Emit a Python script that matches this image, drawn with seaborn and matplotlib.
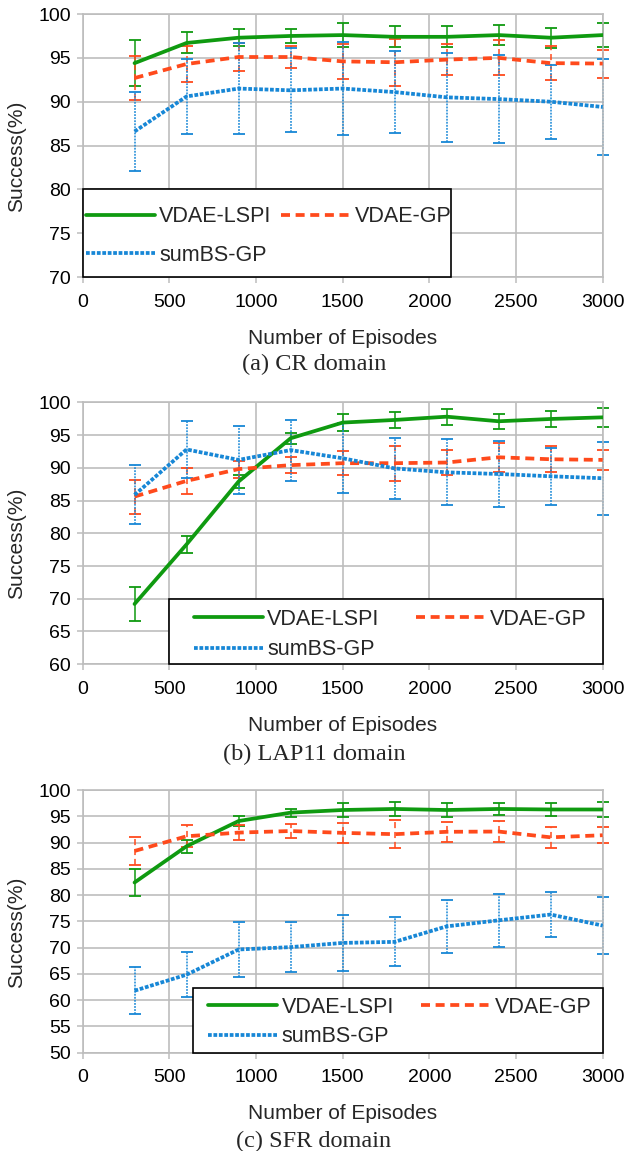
import numpy as np
import pandas as pd
import matplotlib
matplotlib.use('Agg')
import matplotlib.pyplot as plt
from matplotlib.patches import Rectangle
import seaborn as sns

# data
episodes = [300, 600, 900, 1200, 1500, 1800, 2100, 2400, 2700, 3000]
methods = ['VDAE-LSPI', 'VDAE-GP', 'sumBS-GP']

cr_lspi = [94.4, 96.7, 97.3, 97.5, 97.6, 97.4, 97.4, 97.6, 97.3, 97.6]
cr_lspi_err = [2.6, 1.2, 1.0, 0.8, 1.35, 1.2, 1.2, 1.1, 1.15, 1.35]
cr_gp = [92.7, 94.3, 95.1, 95.1, 94.6, 94.5, 94.8, 95.0, 94.4, 94.35]
cr_gp_err = [2.5, 2.0, 1.6, 1.2, 2.0, 2.7, 1.8, 2.0, 1.9, 1.6]
cr_sumbs = [86.6, 90.6, 91.5, 91.3, 91.5, 91.1, 90.5, 90.3, 90.0, 89.4]
cr_sumbs_err = [4.5, 4.3, 5.2, 4.8, 5.3, 4.7, 5.1, 5.0, 4.2, 5.5]

lap_lspi = [69.2, 78.3, 87.9, 94.5, 96.9, 97.3, 97.8, 97.1, 97.45, 97.7]
lap_lspi_err = [2.6, 1.3, 1.0, 0.85, 1.35, 1.2, 1.2, 1.15, 1.15, 1.4]
lap_gp = [85.6, 88.0, 89.8, 90.4, 90.7, 90.7, 90.8, 91.6, 91.3, 91.2]
lap_gp_err = [2.6, 2.0, 1.3, 1.2, 1.85, 2.65, 1.85, 2.2, 2.0, 1.55]
lap_sumbs = [85.85, 92.8, 91.2, 92.7, 91.45, 89.9, 89.3, 89.05, 88.7, 88.4]
lap_sumbs_err = [4.5, 4.3, 5.2, 4.65, 5.35, 4.7, 5.05, 5.05, 4.35, 5.6]

sfr_lspi = [82.4, 89.3, 94.1, 95.7, 96.2, 96.4, 96.2, 96.4, 96.3, 96.3]
sfr_lspi_err = [2.65, 1.25, 1.0, 0.75, 1.4, 1.25, 1.3, 1.2, 1.2, 1.45]
sfr_gp = [88.4, 91.2, 91.9, 92.2, 91.85, 91.6, 92.05, 92.1, 91.0, 91.4]
sfr_gp_err = [2.6, 2.1, 1.4, 1.3, 1.9, 2.7, 1.85, 2.0, 2.0, 1.55]
sfr_sumbs = [61.8, 64.85, 69.65, 70.1, 70.9, 71.1, 74.05, 75.2, 76.3, 74.2]
sfr_sumbs_err = [4.5, 4.3, 5.3, 4.7, 5.35, 4.65, 5.05, 5.05, 4.3, 5.45]

captions = ['(a) CR domain', '(b) LAP11 domain', '(c) SFR domain']
y_limits = [(70, 100), (60, 100), (50, 100)]

colors = {'VDAE-LSPI': '#0f9a10', 'VDAE-GP': '#ff4a1c', 'sumBS-GP': '#1787d6'}
dashes = {'VDAE-LSPI': '', 'VDAE-GP': (2.4, 1.5), 'sumBS-GP': (1.0, 0.45)}
err_styles = {'VDAE-LSPI': '-', 'VDAE-GP': (0, (4, 2.5)), 'sumBS-GP': (0, (1.2, 0.8))}

panels = [
    (cr_lspi, cr_lspi_err, cr_gp, cr_gp_err, cr_sumbs, cr_sumbs_err),
    (lap_lspi, lap_lspi_err, lap_gp, lap_gp_err, lap_sumbs, lap_sumbs_err),
    (sfr_lspi, sfr_lspi_err, sfr_gp, sfr_gp_err, sfr_sumbs, sfr_sumbs_err),
]

sns.set_style('white')
plt.rcParams['font.family'] = ['Liberation Sans', 'DejaVu Sans']

fig = plt.figure(figsize=(6.28, 11.51), dpi=100)
positions = [[0.1314, 0.7593, 0.8283, 0.2285],
             [0.1314, 0.4229, 0.8283, 0.2276],
             [0.1314, 0.0854, 0.8283, 0.2282]]
# legend frame (x0, width, height) in axes fraction, text anchor, row spacing, column spacing
legend_frames = [(0.0, 0.708, 0.333), (0.167, 0.833, 0.25), (0.212, 0.788, 0.246)]
legend_anchor = [(0.0067, 0.27), (0.214, 0.211), (0.2417, 0.213)]
legend_rows = [0.82, 0.43, 0.40]
legend_cols = [0.46, 1.72, 1.28]
caption_y = [1 - 364 / 1151, 1 - 754 / 1151, 1 - 1141 / 1151]
grid_c = '#bdbdbd'

for i, p in enumerate(panels):
    ax = fig.add_axes(positions[i])
    vals = [p[0], p[2], p[4]]
    errs = [p[1], p[3], p[5]]
    df = pd.DataFrame({
        'episodes': episodes * 3,
        'success': vals[0] + vals[1] + vals[2],
        'method': np.repeat(methods, len(episodes)),
    })
    for m, v, e in zip(methods, vals, errs):
        eb = ax.errorbar(episodes, v, yerr=e, fmt='none', ecolor=colors[m],
                         elinewidth=1.1, capsize=4.5, capthick=1.3, zorder=2)
        eb[2][0].set_linestyle(err_styles[m])
        eb[2][0].set_clip_on(False)
        for c in eb[1]:
            c.set_clip_on(False)
    sns.lineplot(data=df, x='episodes', y='success', hue='method', style='method',
                 hue_order=methods, style_order=methods, palette=colors, dashes=dashes,
                 linewidth=2.7, legend=False, ax=ax, zorder=3)

    ax.set_xlim(0, 3000)
    ax.set_ylim(*y_limits[i])
    ax.set_xticks(range(0, 3001, 500))
    ax.set_yticks(range(y_limits[i][0], 101, 5))
    ax.grid(True, color=grid_c, linewidth=1.2)
    ax.set_axisbelow(True)
    for s in ax.spines.values():
        s.set_color(grid_c)
        s.set_linewidth(1.2)
    ax.tick_params(axis='both', which='both', direction='out', length=4, width=1.1,
                   color=grid_c, labelsize=14, labelcolor='black', bottom=True, left=True)
    ax.tick_params(axis='x', pad=8)
    ax.tick_params(axis='y', pad=4.5)

    ax.set_xlabel('Number of Episodes', fontsize=15)
    ax.xaxis.set_label_coords(0.5, -0.232)
    ax.xaxis.label.set_va('center')
    ax.set_ylabel('Success(%)', fontsize=15)
    ax.yaxis.set_label_coords(-0.126, 0.46)
    ax.yaxis.label.set_va('center')

    # legend box like the spreadsheet one: fixed frame, entries laid out inside
    x0, w, h = legend_frames[i]
    ax.add_patch(Rectangle((x0, 0), w, h, transform=ax.transAxes, facecolor='white',
                           edgecolor='black', linewidth=1.2, clip_on=False, zorder=4.5))
    lines = ax.lines[-3:]
    handles = [lines[0], lines[2], lines[1]]
    labels = [methods[0], methods[2], methods[1]]
    leg = ax.legend(handles, labels, ncol=2, loc='upper left',
                    bbox_to_anchor=legend_anchor[i], fontsize=15.5, frameon=False,
                    borderpad=0, borderaxespad=0, labelspacing=legend_rows[i],
                    handlelength=3.2, handletextpad=0.2, columnspacing=legend_cols[i])
    leg.set_zorder(5)

    fig.text(0.5, caption_y[i], captions[i], ha='center', va='center', fontsize=17.5,
             family=['Liberation Serif', 'DejaVu Serif'])

fig.savefig('out.png', dpi=100)
